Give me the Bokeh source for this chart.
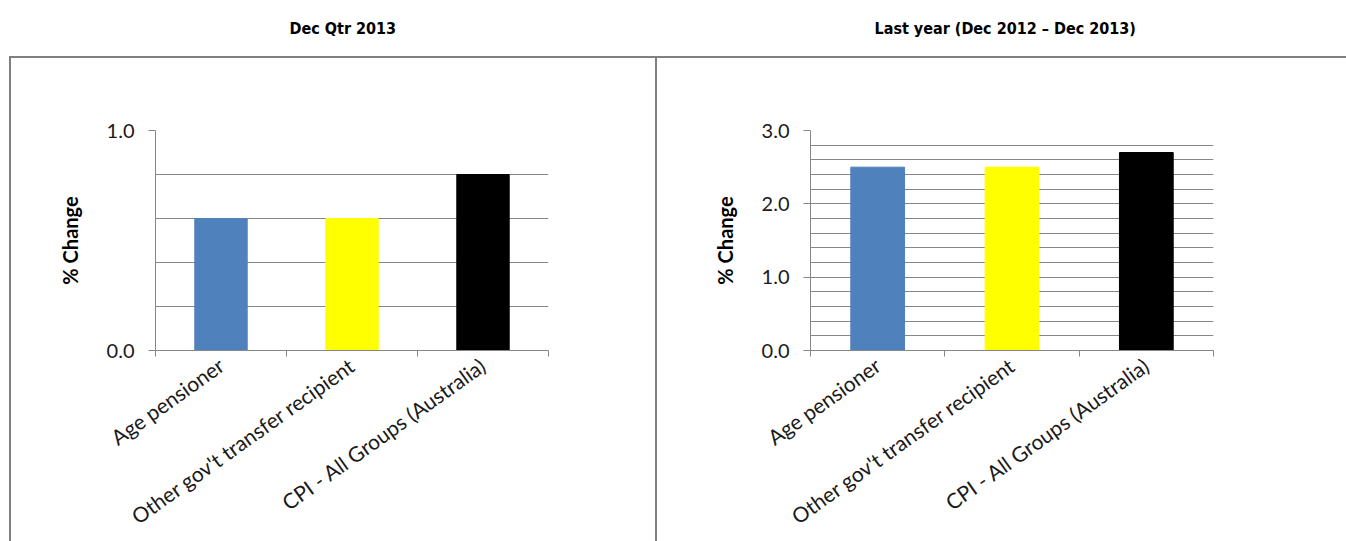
from bokeh.plotting import figure
from bokeh.layouts import row
from bokeh.models import FixedTicker, Range1d, ColumnDataSource, CustomJSTickFormatter, Title
from bokeh.embed import file_html
from bokeh.resources import INLINE
import math

categories = ["Age pensioner", "Other gov't transfer recipient", "CPI - All Groups (Australia)"]
colors = ["#4F81BD", "#FFFF00", "#000000"]
qtr_values = [0.6, 0.6, 0.8]
year_values = [2.5, 2.5, 2.7]
qtr_title = "Dec Qtr 2013"
year_title = "Last year (Dec 2012 \u2013 Dec 2013)"
qtr_ticks = [0.0, 1.0]
year_ticks = [0.0, 1.0, 2.0, 3.0]
qtr_grid = [0.0, 0.2, 0.4, 0.6, 0.8, 1.0]
year_grid = [0.0, 0.2, 0.4, 0.6, 0.8, 1.0, 1.2, 1.4, 1.6, 1.8, 2.0, 2.2, 2.4, 2.6, 2.8, 3.0]
y_label = "% Change"

GRAY = "#868686"
TICK_FONT = "Lato"
TITLE_FONT = "'DejaVu Sans Condensed', 'DejaVu Sans'"


def make_panel(values, yticks, ygrid, ymax, title, width, bl, br, title_offset):
    xs = [i + 0.5 for i in range(len(categories))]
    src = ColumnDataSource(dict(x=xs, top=values, color=colors))
    p = figure(width=width, height=541, output_backend="svg", toolbar_location=None,
               x_range=Range1d(0, len(categories)), y_range=Range1d(0, ymax),
               min_border_left=bl, min_border_right=br, min_border_top=130, min_border_bottom=187)
    p.outline_line_color = None
    p.background_fill_color = "white"
    p.border_fill_alpha = 0
    p.vbar(x="x", top="top", width=0.4, color="color", source=src)

    # spacer nearest the frame, then the visible heading above it
    p.add_layout(Title(text=" ", standoff=72, text_font=TITLE_FONT, text_font_size="16px",
                       text_color="#ffffff"), "above")
    p.add_layout(Title(text=title, align="left", offset=title_offset, standoff=0,
                       vertical_align="bottom", text_font=TITLE_FONT, text_font_style="bold",
                       text_font_size="16px", text_color="#000000"), "above")

    xa = p.xaxis[0]
    xa.ticker = FixedTicker(ticks=xs, minor_ticks=list(range(len(categories) + 1)))
    xa.major_label_overrides = {x: c for x, c in zip(xs, categories)}
    xa.major_label_orientation = math.radians(35.5)
    xa.major_tick_in = 0
    xa.major_tick_out = 0
    xa.minor_tick_in = 0
    xa.minor_tick_out = 6
    xa.minor_tick_line_color = GRAY
    xa.axis_line_color = GRAY
    xa.major_label_text_font = TICK_FONT
    xa.major_label_text_font_size = "21px"
    xa.major_label_text_color = "#1a1a1a"
    xa.major_label_standoff = 6

    ya = p.yaxis[0]
    ya.ticker = FixedTicker(ticks=yticks)
    ya.formatter = CustomJSTickFormatter(code="return tick.toFixed(1);")
    ya.major_tick_in = 0
    ya.major_tick_out = 7
    ya.major_tick_line_color = GRAY
    ya.minor_tick_line_color = None
    ya.axis_line_color = GRAY
    ya.major_label_text_font = TICK_FONT
    ya.major_label_text_font_size = "20px"
    ya.major_label_text_color = "#1a1a1a"
    ya.major_label_standoff = 14
    ya.axis_label = y_label
    ya.axis_label_text_font = "Lato"
    ya.axis_label_text_font_style = "bold"
    ya.axis_label_text_font_size = "20px"
    ya.axis_label_text_color = "#000000"
    ya.axis_label_standoff = 22

    p.xgrid.grid_line_color = None
    p.ygrid.ticker = FixedTicker(ticks=ygrid)
    p.ygrid.grid_line_color = GRAY
    p.ygrid.grid_line_width = 1
    return p


p1 = make_panel(qtr_values, qtr_ticks, qtr_grid, 1.0, qtr_title, 660, 155, 112, 134)
p2 = make_panel(year_values, year_ticks, year_grid, 3.0, year_title, 686, 150, 133, 64)

line = "linear-gradient(#808080, #808080)"
box_bg = ", ".join([
    f"{line} 9px 56px / 1337px 2px no-repeat",
    f"{line} 9px 56px / 2px 500px no-repeat",
    f"{line} 655px 56px / 2px 500px no-repeat",
])
layout = row(p1, p2, spacing=0, styles={"background": box_bg + ", #ffffff"})
open("out.html", "w").write(file_html(layout, INLINE))
